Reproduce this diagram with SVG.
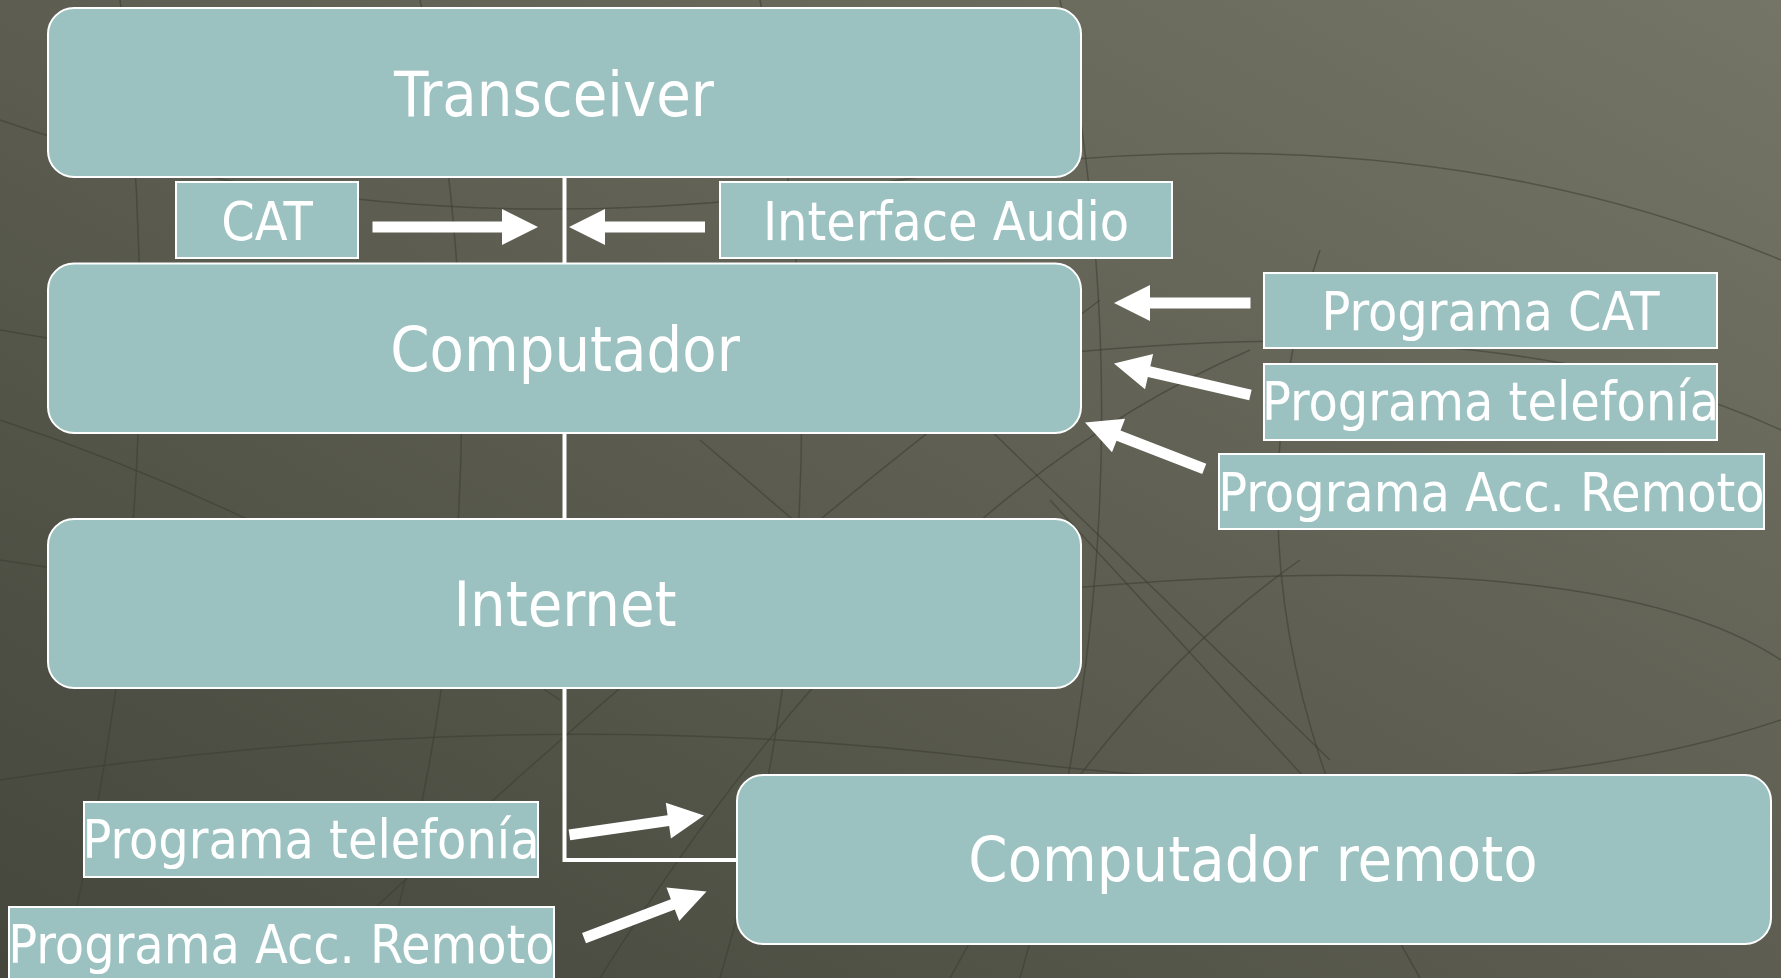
<svg xmlns="http://www.w3.org/2000/svg" width="1781" height="978" viewBox="0 0 1781 978">
<defs>
<linearGradient id="bg" x1="0" y1="1" x2="1" y2="0">
<stop offset="0" stop-color="#45463c"/>
<stop offset="0.5" stop-color="#5d5e51"/>
<stop offset="1" stop-color="#747566"/>
</linearGradient>
<style>
.node{fill:#9bc2c0;stroke:#ffffff;stroke-width:2}
.lbl{fill:#ffffff;font-family:"DejaVu Sans Condensed","DejaVu Sans",sans-serif;font-stretch:condensed;text-anchor:middle}
.big{font-size:62.5px}
.small{font-size:53.3px}
.conn{stroke:#ffffff;stroke-width:4;fill:none}
.arrow{fill:#ffffff}
.grid{stroke:#3c3d33;stroke-width:1.5;fill:none;opacity:0.55}
</style>
</defs>
<rect x="0" y="0" width="1781" height="978" fill="url(#bg)"/>
<g id="background-lines">
<path class="grid" d="M0,120 Q400,260 900,180 T1781,260"/>
<path class="grid" d="M0,330 Q500,420 1000,360 T1781,430"/>
<path class="grid" d="M0,560 Q500,640 1050,590 T1781,660"/>
<path class="grid" d="M0,780 Q520,700 1000,760 T1781,720"/>
<path class="grid" d="M120,0 Q180,500 60,978"/>
<path class="grid" d="M420,0 Q520,480 380,978"/>
<path class="grid" d="M760,0 Q860,500 720,978"/>
<path class="grid" d="M1060,0 Q1160,500 1020,978"/>
<path class="grid" d="M1320,250 Q1200,600 1420,978"/>
<path class="grid" d="M600,978 Q900,500 1250,350"/>
<path class="grid" d="M300,978 Q700,600 1100,300"/>
<path class="grid" d="M950,978 Q1100,700 1300,560"/>
<path class="grid" d="M1050,500 L1380,860"/>
<path class="grid" d="M980,420 L1330,760"/>
<path class="grid" d="M0,420 Q300,520 560,700"/>
<path class="grid" d="M700,440 L980,680"/>
</g>
<g id="connectors">
<line class="conn" x1="564.5" y1="177" x2="564.5" y2="263.5"/>
<line class="conn" x1="564.5" y1="433" x2="564.5" y2="519"/>
<polyline class="conn" points="564.5,688 564.5,860 737,860"/>
<g transform="translate(538,227)"><polygon class="arrow" points="0,0 -36,-18 -36,-5.5 -165.5,-5.5 -165.5,5.5 -36,5.5 -36,18"/></g>
<g transform="translate(569,227) rotate(180)"><polygon class="arrow" points="0,0 -36,-18 -36,-5.5 -136,-5.5 -136,5.5 -36,5.5 -36,18"/></g>
<g transform="translate(1114,303) rotate(180)"><polygon class="arrow" points="0,0 -36,-18 -36,-5.5 -136.5,-5.5 -136.5,5.5 -36,5.5 -36,18"/></g>
<g transform="translate(1114,363.5) rotate(193)"><polygon class="arrow" points="0,0 -36,-18 -36,-5.5 -140,-5.5 -140,5.5 -36,5.5 -36,18"/></g>
<g transform="translate(1085,422.5) rotate(201.3)"><polygon class="arrow" points="0,0 -36,-18 -36,-5.5 -128,-5.5 -128,5.5 -36,5.5 -36,18"/></g>
<g transform="translate(704,815.5) rotate(-8.2)"><polygon class="arrow" points="0,0 -36,-18 -36,-5.5 -136,-5.5 -136,5.5 -36,5.5 -36,18"/></g>
<g transform="translate(706.5,891.5) rotate(-20.8)"><polygon class="arrow" points="0,0 -36,-18 -36,-5.5 -131,-5.5 -131,5.5 -36,5.5 -36,18"/></g>
</g>
<g id="transceiver">
<rect class="node" x="48" y="8" width="1033" height="169" rx="26"/>
<text class="lbl big" x="554" y="116">Transceiver</text>
</g>
<g id="cat">
<rect class="node" x="176" y="182" width="182" height="76"/>
<text class="lbl small" x="267" y="240">CAT</text>
</g>
<g id="interface-audio">
<rect class="node" x="720" y="182" width="452" height="76"/>
<text class="lbl small" x="946" y="240">Interface Audio</text>
</g>
<g id="computador">
<rect class="node" x="48" y="263.5" width="1033" height="169.5" rx="26"/>
<text class="lbl big" x="565" y="371">Computador</text>
</g>
<g id="programa-cat">
<rect class="node" x="1264" y="273" width="453" height="75"/>
<text class="lbl small" x="1490.5" y="330">Programa CAT</text>
</g>
<g id="programa-telefonia-1">
<rect class="node" x="1264" y="364" width="453" height="76"/>
<text class="lbl small" x="1490.5" y="420">Programa telefonía</text>
</g>
<g id="programa-acc-remoto-1">
<rect class="node" x="1219" y="454" width="545" height="75"/>
<text class="lbl small" x="1491.5" y="511">Programa Acc. Remoto</text>
</g>
<g id="internet">
<rect class="node" x="48" y="519" width="1033" height="169" rx="26"/>
<text class="lbl big" x="565" y="626">Internet</text>
</g>
<g id="programa-telefonia-2">
<rect class="node" x="84" y="802" width="454" height="75"/>
<text class="lbl small" x="311" y="858">Programa telefonía</text>
</g>
<g id="programa-acc-remoto-2">
<rect class="node" x="9" y="907" width="545" height="76"/>
<text class="lbl small" x="281.5" y="963">Programa Acc. Remoto</text>
</g>
<g id="computador-remoto">
<rect class="node" x="737" y="775" width="1034" height="169" rx="26"/>
<text class="lbl big" x="1253" y="881">Computador remoto</text>
</g>
</svg>
